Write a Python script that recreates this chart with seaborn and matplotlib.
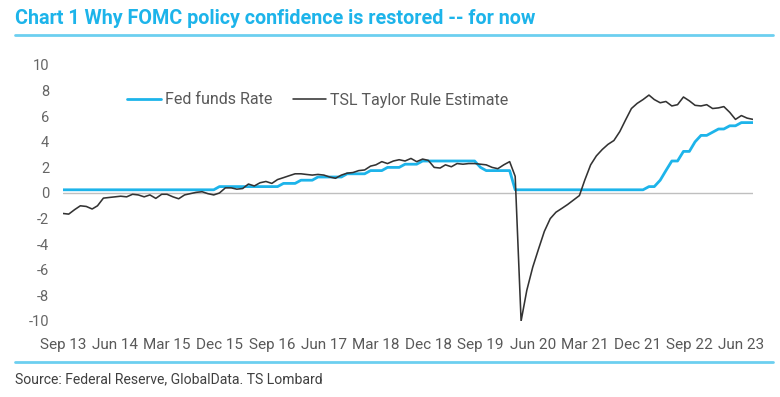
import pandas as pd
import numpy as np
import matplotlib
matplotlib.use('Agg')
import matplotlib.pyplot as plt
from matplotlib.lines import Line2D
import seaborn as sns

# ==============================================================================
# Data (monthly, Sep 2013 - Aug 2023)
# ==============================================================================
months = pd.date_range('2013-09-01', '2023-08-01', freq='MS')

fed_funds = [
    0.25, 0.25, 0.25, 0.25, 0.25, 0.25, 0.25, 0.25, 0.25, 0.25, 0.25, 0.25,
    0.25, 0.25, 0.25, 0.25, 0.25, 0.25, 0.25, 0.25, 0.25, 0.25, 0.25, 0.25,
    0.25, 0.25, 0.25, 0.5, 0.5, 0.5, 0.5, 0.5, 0.5, 0.5, 0.5, 0.5,
    0.5, 0.5, 0.75, 0.75, 0.75, 1.0, 1.0, 1.0, 1.25, 1.25, 1.25, 1.25,
    1.25, 1.5, 1.5, 1.5, 1.5, 1.75, 1.75, 1.75, 2.0, 2.0, 2.0, 2.25,
    2.25, 2.25, 2.5, 2.5, 2.5, 2.5, 2.5, 2.5, 2.5, 2.5, 2.5, 2.5,
    2.0, 1.75, 1.75, 1.75, 1.75, 1.75, 0.25, 0.25, 0.25, 0.25, 0.25, 0.25,
    0.25, 0.25, 0.25, 0.25, 0.25, 0.25, 0.25, 0.25, 0.25, 0.25, 0.25, 0.25,
    0.25, 0.25, 0.25, 0.25, 0.25, 0.5, 0.5, 1.0, 1.75, 2.5, 2.5, 3.25,
    3.25, 4.0, 4.5, 4.5, 4.75, 5.0, 5.0, 5.25, 5.25, 5.5, 5.5, 5.5,
]

taylor_rule = [
    -1.6, -1.65, -1.3, -1.0, -1.05, -1.25, -1.0, -0.4, -0.35, -0.3, -0.25, -0.3,
    -0.1, -0.15, -0.3, -0.15, -0.42, -0.1, -0.1, -0.3, -0.45, -0.15, -0.05, 0.05,
    0.1, -0.05, -0.15, 0.0, 0.4, 0.4, 0.3, 0.35, 0.7, 0.55, 0.8, 0.9,
    0.75, 1.05, 1.2, 1.35, 1.5, 1.5, 1.45, 1.4, 1.45, 1.4, 1.25, 1.15,
    1.4, 1.55, 1.6, 1.75, 1.8, 2.1, 2.2, 2.45, 2.3, 2.5, 2.6, 2.5,
    2.7, 2.45, 2.65, 2.55, 2.0, 1.95, 2.2, 2.05, 2.3, 2.25, 2.3, 2.3,
    2.25, 2.2, 2.0, 1.9, 2.2, 2.45, 1.3, -10.0, -7.6, -5.8, -4.4, -3.0,
    -2.0, -1.5, -1.2, -0.9, -0.55, -0.2, 1.0, 2.2, 2.9, 3.4, 3.8, 4.1,
    4.8, 5.7, 6.6, 7.0, 7.3, 7.65, 7.3, 7.05, 7.15, 6.8, 6.9, 7.5,
    7.2, 6.85, 6.8, 6.9, 6.6, 6.65, 6.75, 6.3, 5.75, 6.05, 5.85, 5.75,
]

series_names = ['Fed funds Rate', 'TSL Taylor Rule Estimate']
series_colors = ['#1DB4EA', '#333333']

x_tick_labels = ['Sep 13', 'Jun 14', 'Mar 15', 'Dec 15', 'Sep 16', 'Jun 17', 'Mar 18',
                 'Dec 18', 'Sep 19', 'Jun 20', 'Mar 21', 'Dec 21', 'Sep 22', 'Jun 23']
y_ticks = [10, 8, 6, 4, 2, 0, -2, -4, -6, -8, -10]

title = 'Chart 1 Why FOMC policy confidence is restored -- for now'
source = 'Source: Federal Reserve, GlobalData. TS Lombard'

df = pd.DataFrame({'date': months, series_names[0]: fed_funds, series_names[1]: taylor_rule})
df_long = df.melt(id_vars='date', var_name='series', value_name='value')

# ==============================================================================
# Plot
# ==============================================================================
sns.set_style('white')
plt.rcParams['font.family'] = ['Roboto', 'DejaVu Sans']

fig = plt.figure(figsize=(7.8, 3.97), dpi=100)
ax = fig.add_axes([63 / 780, 76 / 397, 690 / 780, 256 / 397])

ax.axhline(0, color='#BFBFBF', lw=1.0, zorder=1)
sns.lineplot(data=df_long, x='date', y='value', hue='series', hue_order=series_names,
             palette=series_colors, ax=ax, legend=False, zorder=3)
ax.lines[1].set_linewidth(2.0)
ax.lines[2].set_linewidth(1.15)
ax.lines[1].set_zorder(2)

ax.set_xlim(months[0], months[-1])
ax.set_ylim(-10, 10)
ax.set_xticks(months[::9])
ax.set_xticklabels(x_tick_labels)
ax.set_yticks(y_ticks)
ax.set_yticklabels([str(v) for v in y_ticks])
ax.tick_params(axis='x', length=0, pad=12, labelsize=11, labelcolor='#595959')
ax.tick_params(axis='y', length=0, pad=10, labelsize=10.5, labelcolor='#666666')
ax.set_xlabel('')
ax.set_ylabel('')
for s in ax.spines.values():
    s.set_visible(False)

handles = [Line2D([], [], color=series_colors[0], lw=2.0),
           Line2D([], [], color=series_colors[1], lw=1.15)]
fig.legend(handles, series_names, loc='center left', bbox_to_anchor=(127 / 780, 1 - 100 / 397),
           ncol=2, frameon=False, fontsize=11.5, labelcolor='#595959', borderpad=0,
           borderaxespad=0, handlelength=2.1, handletextpad=0.25, columnspacing=1.3)

fig.text(15 / 780, 1 - 18 / 397, title, fontsize=14.2, fontweight='bold', color='#1DB4EA',
         ha='left', va='center')
fig.text(15 / 780, 1 - 379 / 397, source, fontsize=10.1, color='#404040', ha='left', va='center')

for ypix in (35, 362):
    fig.add_artist(Line2D([15 / 780, 773 / 780], [1 - ypix / 397, 1 - ypix / 397],
                          color='#6CCFF0', lw=2.0, transform=fig.transFigure))

plt.savefig('out.png', dpi=100)
plt.close(fig)
